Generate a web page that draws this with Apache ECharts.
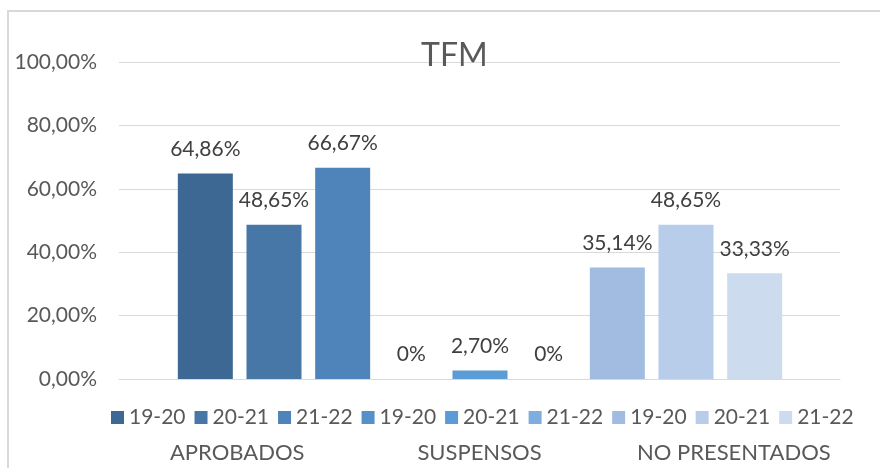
<!DOCTYPE html>
<html>
<head>
<meta charset="utf-8">
<title>TFM</title>
<script src="https://cdn.jsdelivr.net/npm/echarts@6/dist/echarts.min.js"></script>
<style>
  html, body { margin: 0; padding: 0; background: #fff; overflow: hidden; }
  #frame {
    position: absolute; left: 7px; top: 10px; width: 900px; height: 500px;
    border-left: 2px solid #d9d9d9; border-top: 2px solid #d9d9d9;
  }
  #chart { position: absolute; left: 0; top: 0; width: 880px; height: 468px; }
</style>
</head>
<body>
<div id="frame"></div>
<div id="chart"></div>
<script>
// datos del gráfico (porcentajes)
const categories = ['APROBADOS', 'SUSPENSOS', 'NO PRESENTADOS'];
const years = ['19-20', '20-21', '21-22'];
const aprobados = [64.86, 48.65, 66.67];
const suspensos = [0, 2.70, 0];
const noPresentados = [35.14, 48.65, 33.33];
const yTicks = { min: 0, max: 100, interval: 20 };

const colors = [
  '#3d6893', '#4677a6', '#4e84b9',
  '#5590c9', '#5b9bd6', '#7eaede',
  '#a2bce1', '#b8cde9', '#ccdbee'
];
// ajuste horizontal de las etiquetas de categoría (como en Excel)
const catPad = [[0, 4, 0, 0], [0, 0, 0, 0], [0, 0, 0, 28]];

const groups = [aprobados, suspensos, noPresentados];
const slots = [];
categories.forEach(c => years.forEach(y => slots.push(c + ' ' + y)));

const fmt = v => (v === 0 ? '0%' : v.toFixed(2).replace('.', ',') + '%');
const axisFmt = v => v.toFixed(2).replace('.', ',') + '%';

// una serie por barra, cada una en su propia posición
const series = [];
groups.forEach((vals, g) => {
  vals.forEach((v, y) => {
    const idx = g * 3 + y;
    const data = slots.map((s, i) => (i === idx ? v : '-'));
    series.push({
      name: years[y] + '|' + g,
      type: 'bar',
      xAxisIndex: 1,
      yAxisIndex: 1,
      barWidth: 55,
      barGap: '-100%',
      itemStyle: { color: colors[idx] },
      label: {
        show: true,
        position: 'top',
        distance: 14,
        fontFamily: 'Lato',
        fontSize: 21,
        color: '#404040',
        formatter: p => fmt(p.value)
      },
      data: data
    });
  });
});

const chart = echarts.init(document.getElementById('chart'));
chart.setOption({
  animation: false,
  backgroundColor: 'transparent',
  textStyle: { fontFamily: 'Lato' },
  title: {
    text: 'TFM',
    left: 416,
    top: 35,
    textStyle: { fontFamily: 'Lato', fontSize: 32, fontWeight: 'normal', color: '#595959' }
  },
  legend: {
    left: 106,
    top: 402,
    icon: 'rect',
    itemWidth: 13,
    itemHeight: 13,
    itemGap: 9,
    textStyle: { fontFamily: 'Lato', fontSize: 21, color: '#595959' },
    formatter: name => name.split('|')[0],
    data: series.map(s => s.name)
  },
  grid: [
    { left: 119, right: 40, top: 62, bottom: 89 },
    { left: 171, right: 91, top: 62, bottom: 89 }
  ],
  xAxis: [
    {
      type: 'category',
      gridIndex: 0,
      data: categories.map((c, i) => ({ value: c, textStyle: { padding: catPad[i] } })),
      axisLine: { show: true, lineStyle: { color: '#d9d9d9', width: 1 } },
      axisTick: { show: false },
      axisLabel: { interval: 0, hideOverlap: false, margin: 63, fontFamily: 'Lato', fontSize: 22, color: '#595959' }
    },
    {
      type: 'category',
      gridIndex: 1,
      data: slots,
      show: false
    }
  ],
  yAxis: [
    {
      type: 'value',
      gridIndex: 0,
      min: yTicks.min,
      max: yTicks.max,
      interval: yTicks.interval,
      axisLine: { show: false },
      axisTick: { show: false },
      splitLine: { lineStyle: { color: '#d9d9d9', width: 1 } },
      axisLabel: { margin: 22, fontFamily: 'Lato', fontSize: 21, color: '#595959', formatter: axisFmt }
    },
    {
      type: 'value',
      gridIndex: 1,
      min: yTicks.min,
      max: yTicks.max,
      interval: yTicks.interval,
      show: false
    }
  ],
  series: series
});
</script>
</body>
</html>
